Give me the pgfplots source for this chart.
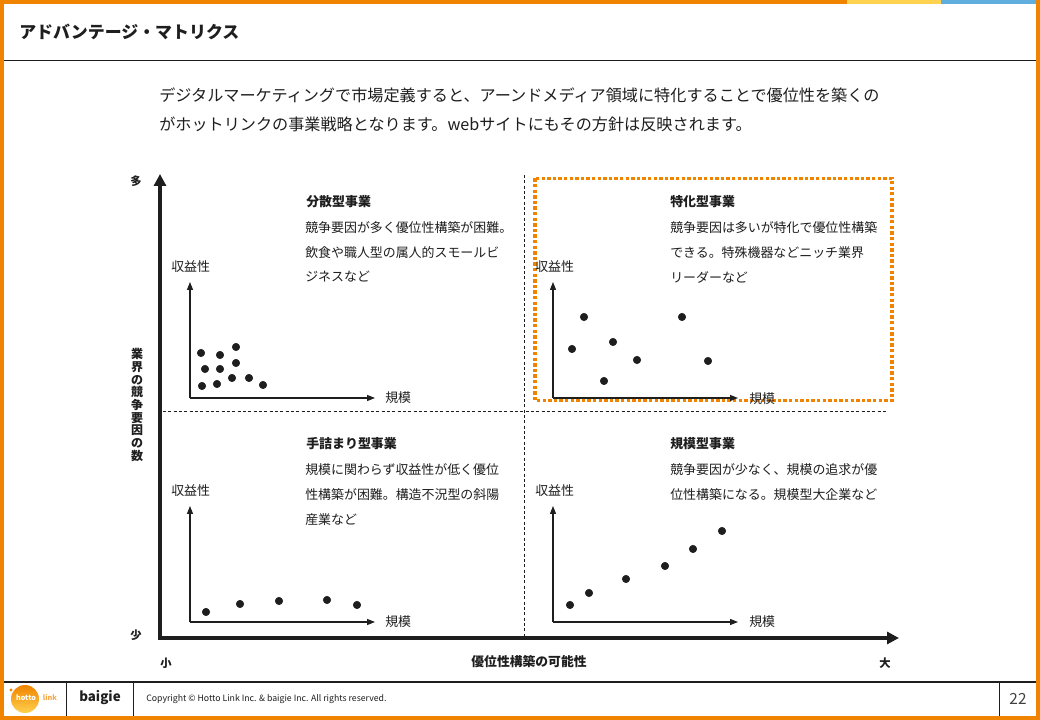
\documentclass[border=0pt]{standalone}
\usepackage{fontspec}
\setmainfont{Noto Sans CJK JP}
\usepackage{pgfplots}
\pgfplotsset{compat=1.18}
\usetikzlibrary{arrows.meta}
\definecolor{borange}{HTML}{F08300}
\definecolor{byellow}{HTML}{FFD24F}
\definecolor{bblue}{HTML}{5FAEDD}
\definecolor{tx}{HTML}{1E1E1E}
\definecolor{lnk}{HTML}{F6A94A}

\pgfplotsset{
  mini/.style={
    scale only axis, width=138.75pt, height=87pt,
    xmin=0, xmax=185, ymin=0, ymax=116,
    axis lines=left, xtick=\empty, ytick=\empty,
    axis line style={line width=0.9pt, draw=tx},
    x axis line style={-{Triangle[length=6pt,width=4.5pt]}},
    y axis line style={-{Triangle[length=6pt,width=4.5pt]}},
    clip=false, anchor=south west
  },
  dots/.style={only marks, mark=*, mark size=2.8pt, color=tx}
}

\begin{document}
\begin{tikzpicture}[x=0.75pt,y=0.75pt]
\begin{axis}[at={(0,0)}, anchor=south west, scale only axis,
  width=780pt, height=540pt, xmin=0, xmax=1040, ymin=0, ymax=720,
  y dir=reverse, hide axis, clip=false]
% background and frame
\fill[white] (0,0) rectangle (1040,720);
\fill[borange] (0,0) rectangle (4,720);
\fill[borange] (1036,0) rectangle (1040,720);
\fill[borange] (0,716) rectangle (1040,720);
\fill[borange] (0,0) rectangle (847,4);
\fill[byellow] (847,0) rectangle (941,4);
\fill[bblue] (941,0) rectangle (1036,4);
% header
\node[anchor=west, font=\fontsize{12.7}{14}\selectfont\bfseries, text=tx, inner sep=0] at (19,32) {アドバンテージ・マトリクス};
\draw[line width=1pt, draw=tx] (4,60.5) -- (1036,60.5);
% description
\node[anchor=west, font=\fontsize{12.1}{14}\selectfont, text=tx, inner sep=0] at (159,95) {デジタルマーケティングで市場定義すると、アーンドメディア領域に特化することで優位性を築くの};
\node[anchor=west, font=\fontsize{12.1}{14}\selectfont, text=tx, inner sep=0] at (159,124) {がホットリンクの事業戦略となります。webサイトにもその方針は反映されます。};
% quadrant dividers
\draw[line width=0.7pt, draw=tx, dash pattern=on 2.2pt off 1.8pt] (524,175) -- (524,636);
\draw[line width=0.7pt, draw=tx, dash pattern=on 2.2pt off 1.8pt] (163,411) -- (887,411);
% highlighted quadrant
\draw[line width=2.5pt, draw=borange, dash pattern=on 2.5pt off 1.7pt] (535,178.5) rectangle (892,400.5);
% main axes
\draw[line width=2.6pt, draw=tx, line join=miter,
  {Triangle[length=9pt,width=9pt]}-{Triangle[length=9pt,width=9pt]}]
  (160,174) -- (160,638) -- (899,638);
% main axis labels
\node[font=\fontsize{8.5}{10}\selectfont\bfseries, text=tx] at (136,181) {多};
\node[font=\fontsize{8.5}{10}\selectfont\bfseries, text=tx] at (136,635) {少};
\node[font=\fontsize{8.5}{10}\selectfont\bfseries, text=tx] at (166,663) {小};
\node[font=\fontsize{8.5}{10}\selectfont\bfseries, text=tx] at (885,663) {大};
\node[font=\fontsize{9.6}{11}\selectfont\bfseries, text=tx] at (529,662) {優位性構築の可能性};
\node[font=\fontsize{9}{9.5}\selectfont\bfseries, text=tx, align=center, inner sep=0] at (137,405) {業\\界\\の\\競\\争\\要\\因\\の\\数};
% quadrant texts
\begin{scope}[every node/.style={anchor=west, inner sep=0, text=tx, font=\fontsize{9.7}{11}\selectfont}]
\node[font=\fontsize{9.7}{11}\selectfont\bfseries] at (306,202) {分散型事業};
\node at (305,228) {競争要因が多く優位性構築が困難。};
\node at (305,253) {飲食や職人型の属人的スモールビ};
\node at (305,277) {ジネスなど};
\node[font=\fontsize{9.7}{11}\selectfont\bfseries] at (670,202) {特化型事業};
\node at (670,228) {競争要因は多いが特化で優位性構築};
\node at (670,253) {できる。特殊機器などニッチ業界};
\node at (670,277) {リーダーなど};
\node[font=\fontsize{9.7}{11}\selectfont\bfseries] at (306,444) {手詰まり型事業};
\node at (305,470) {規模に関わらず収益性が低く優位};
\node at (305,495) {性構築が困難。構造不況型の斜陽};
\node at (305,520) {産業など};
\node[font=\fontsize{9.7}{11}\selectfont\bfseries] at (670,444) {規模型事業};
\node at (670,470) {競争要因が少なく、規模の追求が優};
\node at (670,495) {位性構築になる。規模型大企業など};
% mini axis labels
\node at (171,267) {収益性};
\node at (385,398) {規模};
\node at (535,267) {収益性};
\node at (749,399) {規模};
\node at (171,491) {収益性};
\node at (385,622) {規模};
\node at (535,491) {収益性};
\node at (749,622) {規模};
\end{scope}
% footer
\draw[line width=1.1pt, draw=tx] (4,682) -- (1036,682);
\draw[line width=0.7pt, draw=tx] (66.5,682) -- (66.5,716);
\draw[line width=0.7pt, draw=tx] (133,682) -- (133,716);
\draw[line width=0.7pt, draw=tx] (999,682) -- (999,716);
\shade[top color=borange, bottom color=byellow] (25,699) circle[radius=14];
\fill[borange] (11,690) circle[radius=1.6];
\node[font=\fontsize{5.4}{6}\selectfont\bfseries, text=white, inner sep=0] at (26,698) {hotto};
\node[font=\fontsize{5.4}{6}\selectfont\bfseries, text=lnk, inner sep=0] at (50,698) {link};
\node[font=\fontsize{10}{12}\selectfont\bfseries, text=tx] at (100,698) {baigie};
\node[anchor=west, font=\fontsize{6.55}{7}\selectfont, text=tx, inner sep=0] at (146,699) {Copyright \textcopyright\ Hotto Link Inc. \& baigie Inc. All rights reserved.};
\node[font=\fontsize{11.5}{13}\selectfont, text=tx!85] at (1018,699) {22};
% anchors for mini axes
\coordinate (oTL) at (190,398);
\coordinate (oTR) at (553,398);
\coordinate (oBL) at (190,622);
\coordinate (oBR) at (553,622);
\end{axis}

% 分散型事業
\begin{axis}[mini, at={(oTL)}]
\addplot[dots] coordinates {(11,45) (30,43) (46,51) (15,29) (30,29) (46,35) (12,12) (27,14) (42,20) (59,20) (73,13)};
\end{axis}
% 特化型事業
\begin{axis}[mini, at={(oTR)}]
\addplot[dots] coordinates {(31,81) (129,81) (19,49) (60,56) (84,38) (155,37) (51,17)};
\end{axis}
% 手詰まり型事業
\begin{axis}[mini, at={(oBL)}]
\addplot[dots] coordinates {(16,10) (50,18) (89,21) (137,22) (167,17)};
\end{axis}
% 規模型事業
\begin{axis}[mini, at={(oBR)}]
\addplot[dots] coordinates {(17,17) (36,29) (73,43) (112,56) (140,73) (169,91)};
\end{axis}

\pgfresetboundingbox
\useasboundingbox (0,0) rectangle (780pt,540pt);
\end{tikzpicture}
\end{document}
